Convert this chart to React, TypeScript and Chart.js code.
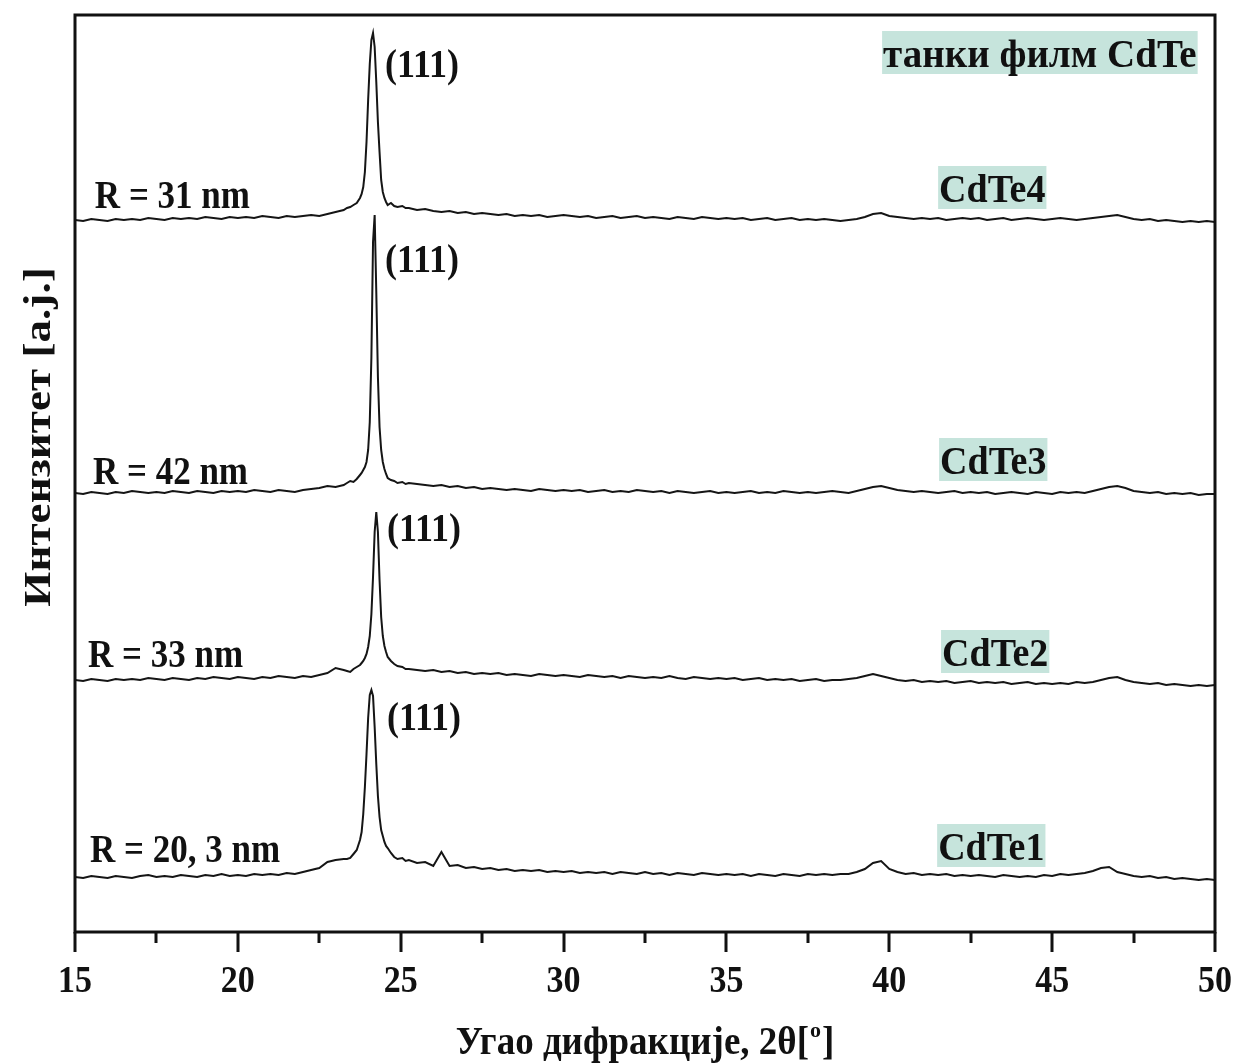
import { useEffect, useRef } from 'react';
import { Chart, registerables } from 'chart.js';

Chart.register(...registerables);

const FONT = '"Liberation Serif", "Times New Roman", serif';
const INK = '#111111';
const HIGHLIGHT = '#c6e4dc';

// ---- sampling angles (2θ, degrees) ----
const baseAnglesLeft = [
  15, 15.25, 15.5, 15.75, 16, 16.25, 16.5, 16.75, 17, 17.25,
  17.5, 17.75, 18, 18.25, 18.5, 18.75, 19, 19.25, 19.5, 19.75,
  20, 20.25, 20.5, 20.75, 21, 21.25, 21.5, 21.75, 22, 22.25,
  22.5, 22.75, 23, 23.25,
];
const peakAngles = [
  23.35, 23.45, 23.55, 23.65, 23.75, 23.8, 23.85, 23.9, 23.95, 24,
  24.05, 24.1, 24.15, 24.2, 24.25, 24.3, 24.35, 24.4, 24.45, 24.5,
  24.55, 24.6, 24.7, 24.8, 24.9, 25.05, 25.15,
];
const baseAnglesRight = [
  25.25, 25.5, 25.75, 26, 26.25, 26.5, 26.75, 27, 27.25, 27.5,
  27.75, 28, 28.25, 28.5, 28.75, 29, 29.25, 29.5, 29.75, 30,
  30.25, 30.5, 30.75, 31, 31.25, 31.5, 31.75, 32, 32.25, 32.5,
  32.75, 33, 33.25, 33.5, 33.75, 34, 34.25, 34.5, 34.75, 35,
  35.25, 35.5, 35.75, 36, 36.25, 36.5, 36.75, 37, 37.25, 37.5,
  37.75, 38, 38.25, 38.5, 38.75, 39, 39.25, 39.5, 39.75, 40,
  40.25, 40.5, 40.75, 41, 41.25, 41.5, 41.75, 42, 42.25, 42.5,
  42.75, 43, 43.25, 43.5, 43.75, 44, 44.25, 44.5, 44.75, 45,
  45.25, 45.5, 45.75, 46, 46.25, 46.5, 46.75, 47, 47.25, 47.5,
  47.75, 48, 48.25, 48.5, 48.75, 49, 49.25, 49.5, 49.75, 50,
];

// ---- intensities (a.j., stacked with vertical offsets) ----
// CdTe1
const cdte1Left = [
  55, 54, 56, 55, 54, 56, 55, 54, 56, 57,
  55, 56, 55, 57, 56, 55, 57, 56, 58, 56,
  57, 56, 58, 57, 58, 57, 59, 58, 60, 62,
  64, 70, 72, 73,
];
const cdte1Peak = [
  73, 74, 78, 82, 92, 100, 118, 145, 178, 214,
  237, 242, 236, 205, 168, 136, 115, 102, 96, 90,
  86, 84, 79, 75, 73, 74, 71,
];
const cdte1Right = [
  72, 69, 70, 66, 80, 66, 67, 64, 65, 63,
  64, 62, 63, 61, 62, 61, 62, 60, 61, 60,
  61, 59, 60, 59, 60, 58, 60, 59, 58, 60,
  58, 59, 57, 59, 58, 57, 59, 58, 57, 58,
  57, 58, 56, 58, 57, 56, 58, 57, 56, 58,
  57, 58, 57, 58, 58, 60, 63, 69, 71, 63,
  60, 58, 59, 57, 58, 57, 58, 56, 57, 56,
  57, 56, 55, 57, 56, 55, 56, 55, 57, 56,
  58, 57, 58, 59, 61, 64, 65, 60, 58, 56,
  55, 56, 54, 55, 53, 54, 53, 52, 53, 52,
];

// CdTe2
const cdte2Left = [
  252, 251, 253, 252, 251, 253, 252, 253, 252, 254,
  253, 252, 254, 253, 252, 254, 253, 255, 254, 253,
  255, 254, 253, 255, 254, 256, 255, 254, 256, 255,
  257, 259, 264, 262,
];
const cdte2Peak = [
  261, 260, 263, 265, 267, 269, 271, 274, 278, 285,
  296, 318, 355, 400, 420, 400, 352, 315, 296, 286,
  280, 275, 271, 268, 266, 265, 263,
];
const cdte2Right = [
  263, 262, 261, 262, 260, 261, 259, 260, 258, 259,
  258, 259, 257, 258, 257, 256, 258, 257, 256, 257,
  256, 255, 257, 256, 255, 256, 254, 256, 255, 254,
  255, 254, 256, 254, 253, 255, 254, 253, 254, 253,
  254, 252, 253, 254, 252, 253, 252, 253, 251, 252,
  253, 251, 252, 252, 253, 254, 256, 258, 256, 254,
  252, 251, 252, 250, 251, 250, 251, 249, 250, 251,
  249, 250, 249, 250, 248, 249, 250, 248, 249, 248,
  249, 248, 250, 249, 250, 252, 254, 255, 252, 250,
  249, 248, 249, 247, 248, 247, 246, 247, 246, 247,
];

// CdTe3
const cdte3Left = [
  439, 438, 440, 439, 438, 440, 439, 441, 440, 439,
  440, 439, 441, 440, 439, 441, 440, 439, 441, 440,
  441, 440, 442, 441, 440, 442, 441, 440, 442, 443,
  444, 446, 445, 447,
];
const cdte3Peak = [
  449, 451, 450, 453, 457, 459, 462, 465, 470, 482,
  510, 575, 690, 717, 640, 555, 505, 482, 470, 463,
  458, 454, 452, 451, 449, 450, 448,
];
const cdte3Right = [
  449, 448, 447, 446, 447, 445, 446, 444, 445, 443,
  444, 443, 442, 443, 442, 441, 443, 442, 441, 442,
  441, 442, 440, 441, 442, 440, 441, 440, 442, 441,
  440, 441, 439, 441, 440, 439, 440, 441, 439, 440,
  439, 440, 441, 439, 440, 439, 441, 440, 439, 440,
  439, 440, 441, 440, 439, 441, 443, 445, 446, 444,
  442, 441, 440, 441, 440, 439, 440, 441, 439, 440,
  439, 440, 438, 439, 440, 439, 438, 440, 439, 438,
  440, 439, 440, 439, 441, 443, 445, 446, 444, 441,
  440, 439, 440, 438, 439, 438, 439, 437, 438, 438,
];

// CdTe4
const cdte4Left = [
  712, 711, 713, 712, 711, 713, 712, 713, 712, 714,
  713, 712, 714, 713, 714, 713, 715, 714, 713, 715,
  714, 715, 714, 716, 715, 714, 716, 715, 716, 717,
  716, 718, 720, 722,
];
const cdte4Peak = [
  724, 725, 727, 729, 734, 738, 745, 760, 790, 832,
  868, 892, 899, 885, 850, 810, 780, 752, 740, 734,
  730, 727, 729, 726, 725, 726, 724,
];
const cdte4Right = [
  724, 722, 723, 721, 720, 721, 719, 720, 718, 719,
  718, 717, 718, 716, 717, 716, 717, 715, 716, 717,
  716, 715, 716, 714, 715, 716, 714, 715, 716, 714,
  715, 714, 713, 715, 714, 713, 715, 714, 713, 714,
  713, 714, 712, 713, 714, 712, 713, 714, 712, 713,
  712, 713, 712, 711, 712, 713, 715, 718, 719, 716,
  715, 714, 713, 714, 713, 714, 712, 713, 714, 713,
  714, 712, 713, 714, 712, 713, 714, 713, 712, 713,
  714, 713, 712, 713, 714, 715, 716, 717, 715, 713,
  712, 713, 711, 712, 711, 710, 711, 710, 711, 710,
];

const seriesNames = ['CdTe1', 'CdTe2', 'CdTe3', 'CdTe4'];
const crystalliteSizes = ['R = 20, 3 nm', 'R = 33 nm', 'R = 42 nm', 'R = 31 nm'];
const peakIndex = '(111)';
const panelTitle = 'танки филм CdTe';
const majorTicks = [15, 20, 25, 30, 35, 40, 45, 50];
const minorTicks = [17.5, 22.5, 27.5, 32.5, 37.5, 42.5, 47.5];
const xTitle = 'Угао дифракције, 2θ[';
const xTitleSup = 'o';
const xTitleEnd = ']';
const yTitle = 'Интензитет [a.j.]';

function buildSeries(left: number[], peak: number[], right: number[]) {
  return [
    ...baseAnglesLeft.map((x, i) => ({ x, y: left[i] })),
    ...peakAngles.map((x, i) => ({ x, y: peak[i] })),
    ...baseAnglesRight.map((x, i) => ({ x, y: right[i] })),
  ];
}

// annotation anchors in data coordinates (angle, intensity)
const annotations = [
  { text: peakIndex, x: 24.52, y: 855, size: 36, box: false },
  { text: peakIndex, x: 24.52, y: 660, size: 36, box: false },
  { text: peakIndex, x: 24.58, y: 391, size: 36, box: false },
  { text: peakIndex, x: 24.58, y: 202, size: 36, box: false },
  { text: crystalliteSizes[3], x: 15.61, y: 724, size: 35, box: false },
  { text: crystalliteSizes[2], x: 15.55, y: 448, size: 35, box: false },
  { text: crystalliteSizes[1], x: 15.4, y: 265, size: 35, box: false },
  { text: crystalliteSizes[0], x: 15.46, y: 70, size: 35, box: false },
  { text: seriesNames[3], x: 41.53, y: 730, size: 38, box: true },
  { text: seriesNames[2], x: 41.56, y: 458, size: 38, box: true },
  { text: seriesNames[1], x: 41.62, y: 266, size: 38, box: true },
  { text: seriesNames[0], x: 41.5, y: 72, size: 38, box: true },
  { text: panelTitle, x: 39.81, y: 865, size: 39, box: true },
];

const STRETCH = 1.12;

function stretchedText(ctx: CanvasRenderingContext2D, text: string, x: number, y: number, sy: number) {
  ctx.save();
  ctx.translate(x, y);
  ctx.scale(1, sy);
  ctx.fillText(text, 0, 0);
  ctx.restore();
}

const decorPlugin = {
  id: 'decor',
  afterDraw(chart: any) {
    const { ctx, chartArea: ca, scales } = chart;
    const xs = scales.x;
    const ys = scales.y;
    ctx.save();
    // frame
    ctx.strokeStyle = INK;
    ctx.lineWidth = 3;
    ctx.strokeRect(ca.left, ca.top, ca.right - ca.left, ca.bottom - ca.top);
    // ticks
    ctx.lineCap = 'butt';
    ctx.beginPath();
    for (const v of majorTicks) {
      const px = Math.round(xs.getPixelForValue(v));
      ctx.moveTo(px, ca.bottom);
      ctx.lineTo(px, ca.bottom + 20);
    }
    for (const v of minorTicks) {
      const px = Math.round(xs.getPixelForValue(v));
      ctx.moveTo(px, ca.bottom);
      ctx.lineTo(px, ca.bottom + 11);
    }
    ctx.stroke();

    // tick labels
    ctx.fillStyle = INK;
    ctx.textAlign = 'center';
    ctx.textBaseline = 'alphabetic';
    ctx.font = `bold 34px ${FONT}`;
    for (const v of majorTicks) {
      stretchedText(ctx, String(v), xs.getPixelForValue(v), ca.bottom + 60, 1.1);
    }

    // annotations
    ctx.textAlign = 'left';
    for (const a of annotations) {
      ctx.font = `bold ${a.size}px ${FONT}`;
      const px = xs.getPixelForValue(a.x);
      const py = ys.getPixelForValue(a.y);
      if (a.box) {
        const w = ctx.measureText(a.text).width;
        ctx.fillStyle = HIGHLIGHT;
        ctx.fillRect(px - 1, py - 36, w + 2, 43);
      }
      ctx.fillStyle = INK;
      stretchedText(ctx, a.text, px, py, a.box ? 1.05 : STRETCH);
    }

    // x title
    const cx = (ca.left + ca.right) / 2;
    const base = 1054;
    ctx.font = `bold 37px ${FONT}`;
    const w1 = ctx.measureText(xTitle).width;
    const w3 = ctx.measureText(xTitleEnd).width;
    ctx.font = `bold 22px ${FONT}`;
    const w2 = ctx.measureText(xTitleSup).width;
    let sx = cx - (w1 + w2 + 2 + w3) / 2;
    ctx.font = `bold 37px ${FONT}`;
    stretchedText(ctx, xTitle, sx, base, 1.08);
    sx += w1;
    ctx.font = `bold 22px ${FONT}`;
    ctx.fillText(xTitleSup, sx + 1, base - 17);
    sx += w2 + 2;
    ctx.font = `bold 37px ${FONT}`;
    stretchedText(ctx, xTitleEnd, sx, base, 1.08);

    // y title (stretched along its length like the reference)
    ctx.translate(50, 437);
    ctx.rotate(-Math.PI / 2);
    ctx.scale(1.22, 1);
    ctx.textAlign = 'center';
    ctx.font = `bold 37px ${FONT}`;
    ctx.fillText(yTitle, 0, 0);
    ctx.restore();
  },
};

export default function App() {
  const ref = useRef<HTMLCanvasElement | null>(null);
  useEffect(() => {
    if (!ref.current) return;
    const chart = new Chart(ref.current, {
      type: 'line',
      data: {
        datasets: [
          { label: seriesNames[0], data: buildSeries(cdte1Left, cdte1Peak, cdte1Right) },
          { label: seriesNames[1], data: buildSeries(cdte2Left, cdte2Peak, cdte2Right) },
          { label: seriesNames[2], data: buildSeries(cdte3Left, cdte3Peak, cdte3Right) },
          { label: seriesNames[3], data: buildSeries(cdte4Left, cdte4Peak, cdte4Right) },
        ].map((d) => ({
          ...d,
          borderColor: '#151515',
          borderWidth: 2,
          pointRadius: 0,
          tension: 0,
          fill: false,
        })),
      },
      options: {
        responsive: false,
        animation: false,
        events: [],
        layout: { padding: { left: 75, right: 20, top: 15, bottom: 0 } },
        plugins: { legend: { display: false }, tooltip: { enabled: false }, title: { display: false } },
        scales: {
          x: {
            type: 'linear',
            min: 15,
            max: 50,
            afterFit: (s: any) => {
              s.height = 132;
              s.paddingLeft = 0;
              s.paddingRight = 0;
            },
            border: { display: false },
            grid: { display: false },
            ticks: { display: false, stepSize: 5 },
          },
          y: {
            type: 'linear',
            min: 0,
            max: 917,
            display: false,
          },
        },
      },
      plugins: [decorPlugin],
    });
    return () => chart.destroy();
  }, []);
  return (
    <div style={{ position: 'absolute', left: 0, top: 0, width: 1235, height: 1064, background: '#fff' }}>
      <canvas ref={ref} width={1235} height={1064} />
    </div>
  );
}
